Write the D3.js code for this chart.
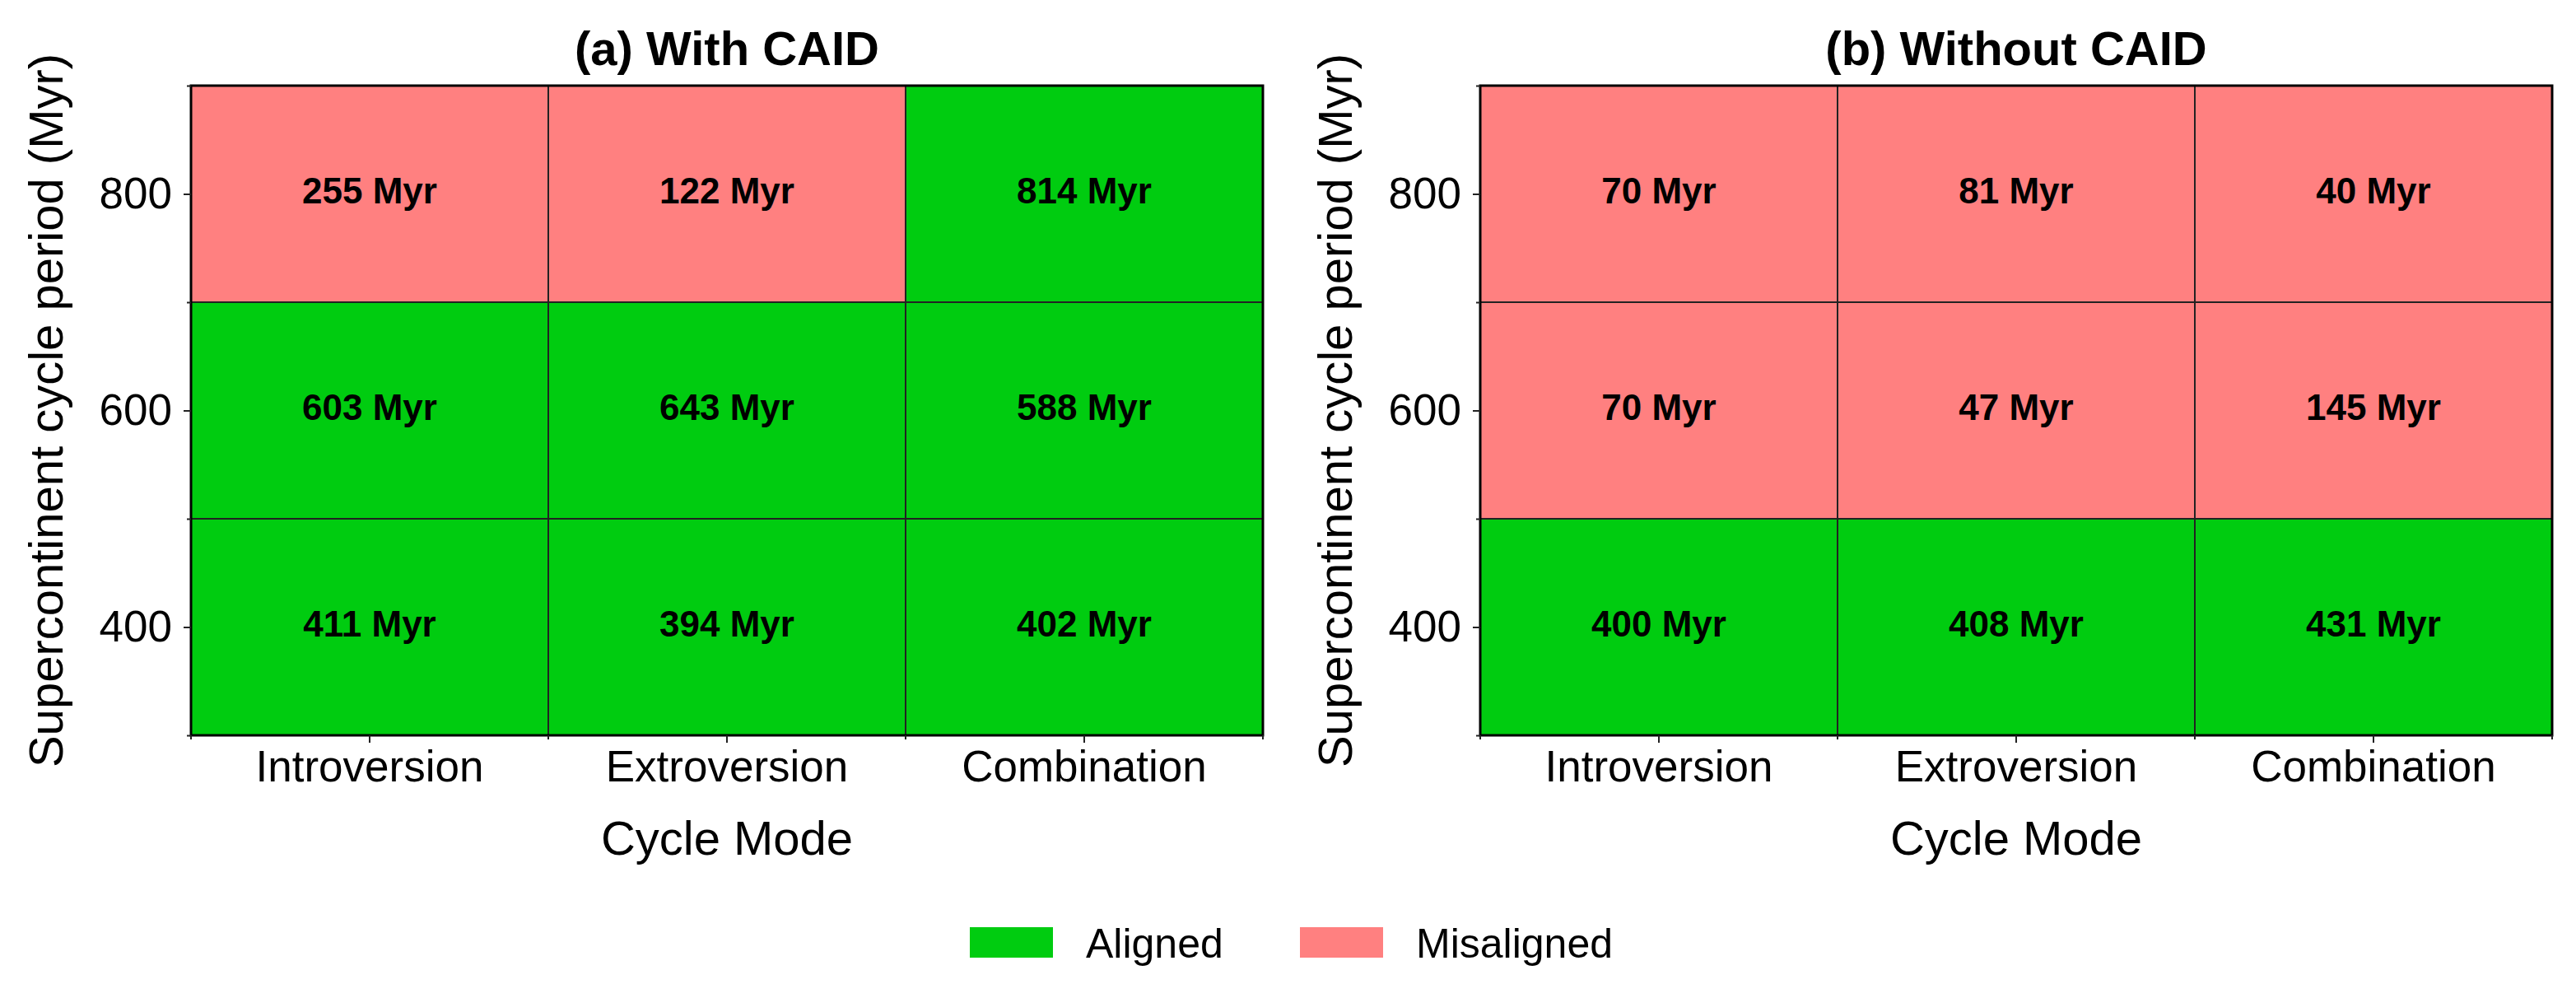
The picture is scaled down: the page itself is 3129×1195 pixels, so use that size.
<!DOCTYPE html>
<html>
<head>
<meta charset="utf-8">
<script src="https://cdn.jsdelivr.net/npm/d3@7"></script>
<style>
  body { margin: 0; background: #fff; }
  svg { display: block; font-family: "Liberation Sans", Arial, sans-serif; }
</style>
</head>
<body>
<svg id="chart"></svg>
<script>
'use strict'

const WIDTH = 3129;
const HEIGHT = 1195;

// data
const modes = ['Introversion', 'Extroversion', 'Combination'];
const periods = [400, 600, 800];
const majorTicks = [400, 600, 800];
const minorTicks = [300, 500, 700, 900];
const titles = ['(a) With CAID', '(b) Without CAID'];

// rows follow periods (400, 600, 800), columns follow modes
const withCAID = [
  [411, 394, 402],
  [603, 643, 588],
  [255, 122, 814]
];
const withCAIDAligned = [
  [true, true, true],
  [true, true, true],
  [false, false, true]
];
const withoutCAID = [
  [400, 408, 431],
  [70, 47, 145],
  [70, 81, 40]
];
const withoutCAIDAligned = [
  [true, true, true],
  [false, false, false],
  [false, false, false]
];

const legendLabels = ['Aligned', 'Misaligned'];
const GREEN = '#00cc10';
const PINK = '#ff8080';

const svg = d3.select('#chart')
  .attr('width', WIDTH)
  .attr('height', HEIGHT);

const TOP = 104;
const BOTTOM = 893;
const PANEL_W = 1302;
const panelLefts = [232, 1798];

function drawPanel(left, title, values, aligned) {
  const g = svg.append('g');

  let xScale = d3.scaleBand().domain(modes).range([left, left + PANEL_W]);
  let yScale = d3.scaleLinear().domain([300, 900]).range([BOTTOM, TOP]);

  let cells = [];
  periods.forEach((p, i) => {
    modes.forEach((m, j) => {
      cells.push({ period: p, mode: m, value: values[i][j], ok: aligned[i][j] });
    });
  });

  g.selectAll('rect.cell')
    .data(cells)
    .enter().append('rect')
    .attr('class', 'cell')
    .attr('x', d => xScale(d.mode))
    .attr('y', d => yScale(d.period + 100))
    .attr('width', xScale.bandwidth())
    .attr('height', d => yScale(d.period - 100) - yScale(d.period + 100))
    .attr('fill', d => d.ok ? GREEN : PINK)
    .attr('stroke', '#222')
    .attr('stroke-width', 2);

  g.selectAll('text.val')
    .data(cells)
    .enter().append('text')
    .attr('class', 'val')
    .attr('x', d => xScale(d.mode) + xScale.bandwidth() / 2)
    .attr('y', d => yScale(d.period))
    .attr('dy', '0.26em')
    .attr('text-anchor', 'middle')
    .attr('font-size', 44)
    .attr('font-weight', 'bold')
    .text(d => d.value + ' Myr');

  // frame
  g.append('rect')
    .attr('x', left)
    .attr('y', TOP)
    .attr('width', PANEL_W)
    .attr('height', BOTTOM - TOP)
    .attr('fill', 'none')
    .attr('stroke', '#000')
    .attr('stroke-width', 3);

  // y axis
  let leftAxis = d3.axisLeft(yScale).tickValues(majorTicks).tickSize(9).tickPadding(14);
  let yg = g.append('g')
    .attr('transform', 'translate(' + left + ',0)')
    .call(leftAxis);
  yg.select('.domain').remove();
  yg.selectAll('text').attr('font-size', 53).attr('font-family', null).attr('fill', '#000');
  yg.selectAll('line').attr('stroke-width', 2).attr('stroke', '#222');

  let yMinor = g.append('g')
    .attr('transform', 'translate(' + left + ',0)')
    .call(d3.axisLeft(yScale).tickValues(minorTicks).tickSize(5).tickFormat(''));
  yMinor.select('.domain').remove();
  yMinor.selectAll('line').attr('stroke-width', 2).attr('stroke', '#222');

  // x axis
  let bottomAxis = d3.axisBottom(xScale).tickSize(9).tickPadding(9);
  let xg = g.append('g')
    .attr('transform', 'translate(0,' + BOTTOM + ')')
    .call(bottomAxis);
  xg.select('.domain').remove();
  xg.selectAll('text').attr('font-size', 53).attr('font-family', null).attr('fill', '#000');
  xg.selectAll('line').attr('stroke-width', 2).attr('stroke', '#222');

  let bounds = modes.map(m => xScale(m)).concat([left + PANEL_W]);
  g.selectAll('line.minor-x')
    .data(bounds)
    .enter().append('line')
    .attr('class', 'minor-x')
    .attr('x1', d => d).attr('x2', d => d)
    .attr('y1', BOTTOM).attr('y2', BOTTOM + 5)
    .attr('stroke', '#222')
    .attr('stroke-width', 2);

  // labels
  let cx = left + PANEL_W / 2;
  g.append('text')
    .attr('x', cx)
    .attr('y', 79)
    .attr('text-anchor', 'middle')
    .attr('font-size', 58)
    .attr('font-weight', 'bold')
    .text(title);

  g.append('text')
    .attr('x', cx)
    .attr('y', 1038)
    .attr('text-anchor', 'middle')
    .attr('font-size', 58)
    .text('Cycle Mode');

  g.append('text')
    .attr('transform', 'translate(' + (left - 156) + ',' + ((TOP + BOTTOM) / 2) + ') rotate(-90)')
    .attr('text-anchor', 'middle')
    .attr('font-size', 58)
    .text('Supercontinent cycle period (Myr)');
}

drawPanel(panelLefts[0], titles[0], withCAID, withCAIDAligned);
drawPanel(panelLefts[1], titles[1], withoutCAID, withoutCAIDAligned);

// legend
const legendX = [1178, 1579];
const legend = svg.append('g');
legendLabels.forEach((label, i) => {
  legend.append('rect')
    .attr('x', legendX[i])
    .attr('y', 1126)
    .attr('width', 101)
    .attr('height', 37)
    .attr('fill', i === 0 ? GREEN : PINK);
  legend.append('text')
    .attr('x', legendX[i] + 141)
    .attr('y', 1163)
    .attr('font-size', 50)
    .text(label);
});
</script>
</body>
</html>
